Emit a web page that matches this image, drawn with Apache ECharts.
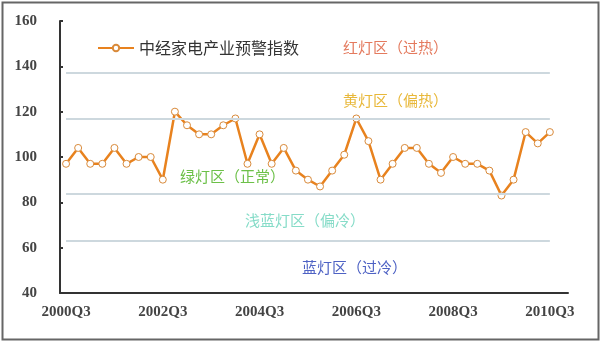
<!DOCTYPE html>
<html>
<head>
<meta charset="utf-8">
<script src="https://cdn.jsdelivr.net/npm/echarts@6/dist/echarts.min.js"></script>
<style>
html,body{margin:0;padding:0;background:#fff;}
#c{width:600px;height:342px;}
</style>
</head>
<body>
<div id="c"></div>
<script>
// Quarters 2000Q3 .. 2010Q4
const categories = [];
(function(){
  let y = 2000, q = 3;
  for (let i = 0; i < 42; i++) {
    categories.push(y + 'Q' + q);
    q++; if (q > 4) { q = 1; y++; }
  }
})();
const seriesName = '中经家电产业预警指数';
const indexValues = [97,104,97,97,104,97,100,100,90,120,
                     114,110,110,114,117,97,110,97,104,94,
                     90,87,94,101,117,107,90,97,104,104,
                     97,93,100,97,97,94,83,90,111,106,
                     111,null];
const zoneBounds = [137, 117, 84, 63];
const zoneLabels = ['红灯区（过热）','黄灯区（偏热）','绿灯区（正常）','浅蓝灯区（偏冷）','蓝灯区（过冷）'];
const zoneColors = ['#e47a5e','#e8b83a','#6cc048','#86dcc8','#4e62c4'];
const yTicks = {min:40, max:160, interval:20};

const chart = echarts.init(document.getElementById('c'));
const labelPos = [[343,48],[343,101],[180,177],[245,221],[302,268]];
chart.setOption({
  animation:false,
  backgroundColor:'#fff',
  grid:{left:60, right:32, top:21, bottom:49},
  legend:{
    left:92, top:35, itemWidth:36, itemHeight:8, itemGap:6,
    textStyle:{fontFamily:'Noto Sans CJK SC', fontSize:16, color:'#333'},
    data:[seriesName]
  },
  xAxis:{
    type:'category', data:categories, boundaryGap:true,
    axisLine:{lineStyle:{color:'#333', width:2}},
    axisTick:{inside:true, length:4, interval:3, lineStyle:{color:'#333', width:2}},
    axisLabel:{interval:7, margin:12, color:'#444', fontFamily:'Liberation Serif', fontWeight:'bold', fontSize:15}
  },
  yAxis:{
    type:'value', min:yTicks.min, max:yTicks.max, interval:yTicks.interval,
    axisLine:{show:true, lineStyle:{color:'#333', width:2}},
    axisTick:{show:true, inside:true, length:3, lineStyle:{color:'#333', width:2}},
    axisLabel:{margin:23, color:'#444', fontFamily:'Liberation Serif', fontWeight:'bold', fontSize:15},
    splitLine:{show:false}
  },
  series:[{
    name:seriesName, type:'line', data:indexValues,
    symbol:'circle', symbolSize:7, showAllSymbol:true,
    lineStyle:{color:'#e8821e', width:2.5},
    itemStyle:{color:'#fff', borderColor:'#d98a3a', borderWidth:1},
    markLine:{
      silent:true, symbol:['none','none'], label:{show:false},
      lineStyle:{color:'#cdd8de', width:2, type:'solid'},
      data: zoneBounds.map(v => [{coord:[0, v]},{coord:[40, v]}])
    }
  }],
  graphic: [
    {type:'rect', left:0, top:0, shape:{x:1, y:1, width:596, height:337},
     style:{fill:'none', stroke:'#666', lineWidth:2}, silent:true}
  ].concat(zoneLabels.map((t,i)=>({
    type:'text', left:labelPos[i][0], top:labelPos[i][1]-8,
    style:{text:t, fill:zoneColors[i], font:'15px "Noto Sans CJK SC"'}, silent:true
  })))
});
</script>
</body>
</html>
